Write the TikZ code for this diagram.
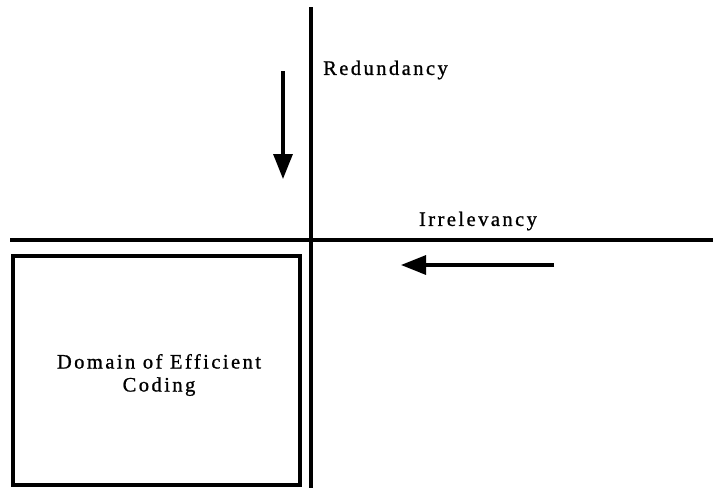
\documentclass[tikz,border=0pt]{standalone}
\usepackage{fontspec}
\newfontfamily\lblfont[LetterSpace=12,FakeBold=1]{Liberation Serif}
\usetikzlibrary{arrows.meta}
\tikzset{
  axis/.style={line width=3.2pt},
  shift arrow/.style={line width=3.2pt, -{Triangle[width=19pt,length=25pt]}},
  lbl/.style={font=\lblfont\fontsize{20.5}{23}\selectfont, inner sep=0pt}
}
\begin{document}
\begin{tikzpicture}[x=1pt,y=-1pt]
\useasboundingbox (0,0) rectangle (713,488);
% axes
\coordinate (top) at (311,7);
\coordinate (bottom) at (311,488);
\coordinate (left) at (10,240);
\coordinate (right) at (713,240);
\draw[axis] (top) -- (bottom);
\draw[axis] (left) -- (right);
% domain box
\draw[axis] (13,256) rectangle (300,485);
\node[lbl, align=center] (domain) at (159,375) {Domain of Efficient\\Coding};
% labels
\node[lbl, anchor=west] (redundancy) at (323,70) {Redundancy};
\node[lbl] (irrelevancy) at (478,221) {Irrelevancy};
% arrows
\coordinate (r1) at (283,71);
\coordinate (r2) at (283,179);
\coordinate (i1) at (554,265);
\coordinate (i2) at (401,265);
\draw[shift arrow] (r1) -- (r2);
\draw[shift arrow] (i1) -- (i2);
\end{tikzpicture}
\end{document}
